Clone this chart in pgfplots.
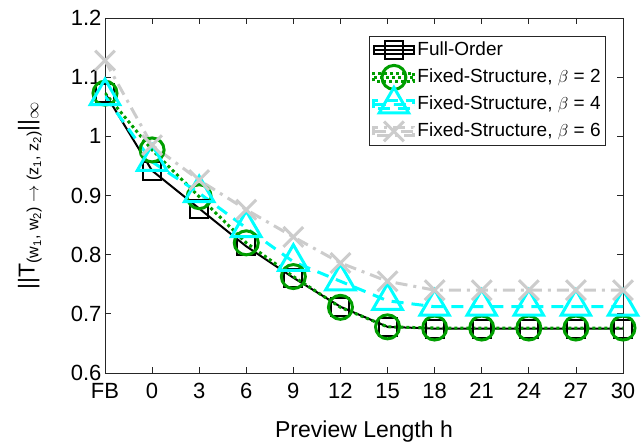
\documentclass[border=0pt]{standalone}
\usepackage{pgfplots}
\pgfplotsset{compat=1.18}
\usepackage{fontspec}
\setmainfont{Liberation Sans}

\definecolor{mgreen}{rgb}{0,0.62,0}
\definecolor{mcyan}{rgb}{0,1,1}
\definecolor{mgray}{rgb}{0.8,0.8,0.8}
\definecolor{maxis}{rgb}{0.15,0.15,0.15}

\begin{document}
\begin{tikzpicture}
\begin{axis}[
    scale only axis, width=518pt, height=355pt,
    xmin=0, xmax=11, ymin=0.6, ymax=1.2,
    xtick={0,...,11},
    xticklabels={FB,0,3,6,9,12,15,18,21,24,27,30},
    ytick={0.6,0.7,...,1.21},
    yticklabels={0.6,0.7,0.8,0.9,1,1.1,1.2},
    tick align=inside, major tick length=6pt,
    axis line style={maxis, line width=0.8pt},
    every tick/.style={maxis, line width=0.8pt},
    ticklabel style={font=\fontsize{22}{26}\selectfont},
    xticklabel style={yshift=-7pt},
    /pgf/number format/assume math mode=true,
    xlabel={Preview Length h},
    ylabel={||T\textsubscript{(w\textsubscript{1}, w\textsubscript{2}) $\rightarrow$ (z\textsubscript{1}, z\textsubscript{2})}||\textsubscript{$\infty$}},
    label style={font=\fontsize{23}{27}\selectfont},
    xlabel style={at={(axis description cs:0.5,0)}, anchor=base, yshift=-65pt},
    ylabel style={at={(axis description cs:-0.145,0.5)}, anchor=center},
    legend style={at={(1,1)}, anchor=north east, xshift=-17pt, yshift=-18pt,
        font=\fontsize{19}{22}\selectfont, draw=maxis, line width=0.8pt,
        cells={anchor=west}, inner sep=3pt, row sep=5pt,
        nodes={text height=14pt, text depth=4pt, inner sep=2pt}},
    legend image code/.code={
        \path (0pt,-4pt) rectangle (40pt,4pt);
        \draw[overlay, mark repeat=2, mark phase=2] plot coordinates {(0pt,0pt) (20pt,0pt) (40pt,0pt)};
    },
]
\addplot[black, line width=2pt, mark=square, mark size=9pt, mark options={solid}]
coordinates {(0,1.073) (1,0.942) (2,0.878) (3,0.814) (4,0.761) (5,0.712) (6,0.678)
    (7,0.675) (8,0.675) (9,0.675) (10,0.675) (11,0.675)};
\addlegendentry{Full-Order}
\addplot[mgreen, line width=3pt, dash pattern=on 3pt off 3pt, mark=o, mark size=12pt, mark options={solid}]
coordinates {(0,1.073) (1,0.977) (2,0.898) (3,0.820) (4,0.763) (5,0.711) (6,0.678)
    (7,0.676) (8,0.676) (9,0.676) (10,0.676) (11,0.676)};
\addlegendentry{Fixed-Structure, $\beta$ = 2}
\addplot[mcyan, line width=3pt, dash pattern=on 12pt off 8pt, mark=triangle, mark size=17pt, mark options={solid}]
coordinates {(0,1.068) (1,0.957) (2,0.904) (3,0.845) (4,0.788) (5,0.755) (6,0.722)
    (7,0.712) (8,0.712) (9,0.712) (10,0.712) (11,0.712)};
\addlegendentry{Fixed-Structure, $\beta$ = 4}
\addplot[mgray, line width=3pt, dash pattern=on 12pt off 6pt on 3pt off 6pt, mark=x, mark size=14pt, mark options={solid}]
coordinates {(0,1.128) (1,0.985) (2,0.926) (3,0.876) (4,0.830) (5,0.786) (6,0.755)
    (7,0.740) (8,0.740) (9,0.740) (10,0.740) (11,0.740)};
\addlegendentry{Fixed-Structure, $\beta$ = 6}
\end{axis}
\pgfresetboundingbox
\path ([shift={(-105pt,-71pt)}]current axis.south west) rectangle ([shift={(20pt,18pt)}]current axis.north east);
\end{tikzpicture}
\end{document}
